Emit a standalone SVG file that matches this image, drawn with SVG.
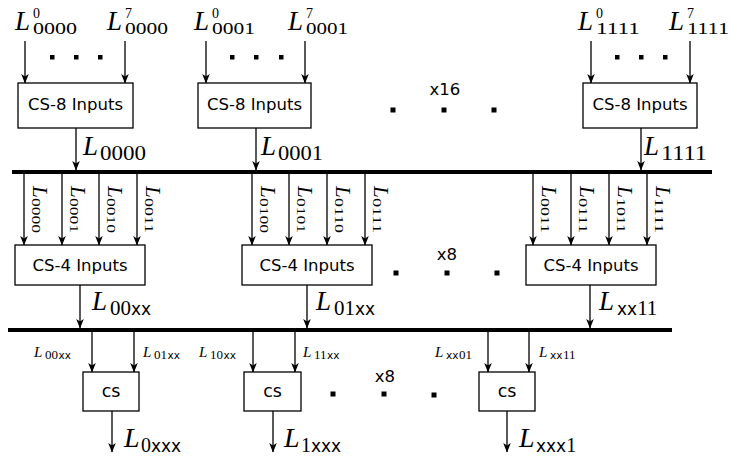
<svg xmlns="http://www.w3.org/2000/svg" width="732" height="460" viewBox="0 0 732 460">
<style>
.box{fill:#fff;stroke:#000;stroke-width:1.3}
.arr{stroke:#000;stroke-width:1.3;fill:none;marker-end:url(#ah)}
.bus{stroke:#000;stroke-width:4}
.bt{font-family:"DejaVu Sans",sans-serif;font-size:16.5px;text-anchor:middle;fill:#000}
.cs{font-family:"DejaVu Sans",sans-serif;font-size:17.5px;text-anchor:middle;fill:#000}
.L{font-family:"Liberation Serif",serif;font-style:italic;fill:#000}
.n{font-style:normal}
.xx{font-family:"DejaVu Sans",sans-serif;font-style:normal}
.dot{fill:#000}
</style>
<defs>
<marker id="ah" viewBox="-10 -5 11 10" refX="0" refY="0" markerWidth="11" markerHeight="10" markerUnits="userSpaceOnUse" orient="auto">
<path d="M0.5,0 L-9,-3.8 L-6.5,0 L-9,3.8 Z" fill="#000"/>
</marker>
</defs>

<g id="buses">
<line class="bus" x1="12" y1="172" x2="712" y2="172"/>
<line class="bus" x1="8" y1="330" x2="672" y2="330"/>
</g>

<g id="connectors">
<line class="arr" x1="25" y1="41" x2="25" y2="83"/>
<line class="arr" x1="125" y1="41" x2="125" y2="83"/>
<line class="arr" x1="206" y1="41" x2="206" y2="83"/>
<line class="arr" x1="305" y1="41" x2="305" y2="83"/>
<line class="arr" x1="591" y1="41" x2="591" y2="83"/>
<line class="arr" x1="690" y1="41" x2="690" y2="83"/>
<line class="arr" x1="76" y1="128" x2="76" y2="170"/>
<line class="arr" x1="256" y1="128" x2="256" y2="170"/>
<line class="arr" x1="641" y1="128" x2="641" y2="170"/>

<line class="arr" x1="24" y1="174" x2="24" y2="245"/>
<line class="arr" x1="62" y1="174" x2="62" y2="245"/>
<line class="arr" x1="99" y1="174" x2="99" y2="245"/>
<line class="arr" x1="137" y1="174" x2="137" y2="245"/>
<line class="arr" x1="252" y1="174" x2="252" y2="245"/>
<line class="arr" x1="289" y1="174" x2="289" y2="245"/>
<line class="arr" x1="327" y1="174" x2="327" y2="245"/>
<line class="arr" x1="365" y1="174" x2="365" y2="245"/>
<line class="arr" x1="533" y1="174" x2="533" y2="245"/>
<line class="arr" x1="571" y1="174" x2="571" y2="245"/>
<line class="arr" x1="609" y1="174" x2="609" y2="245"/>
<line class="arr" x1="647" y1="174" x2="647" y2="245"/>
<line class="arr" x1="80" y1="285" x2="80" y2="328"/>
<line class="arr" x1="307" y1="285" x2="307" y2="328"/>
<line class="arr" x1="590" y1="285" x2="590" y2="328"/>

<line class="arr" x1="92" y1="332" x2="92" y2="372"/>
<line class="arr" x1="134" y1="332" x2="134" y2="372"/>
<line class="arr" x1="253" y1="332" x2="253" y2="372"/>
<line class="arr" x1="295" y1="332" x2="295" y2="372"/>
<line class="arr" x1="488" y1="332" x2="488" y2="372"/>
<line class="arr" x1="529" y1="332" x2="529" y2="372"/>
<line class="arr" x1="112" y1="411" x2="112" y2="452"/>
<line class="arr" x1="273" y1="411" x2="273" y2="452"/>
<line class="arr" x1="507" y1="411" x2="507" y2="452"/>
</g>

<g id="cs8-0000">
<rect class="box" x="18" y="83" width="115" height="45"/>
<text class="bt" x="75.5" y="110">CS-8 Inputs</text>
</g>
<g id="cs8-0001">
<rect class="box" x="198" y="83" width="113" height="45"/>
<text class="bt" x="254.5" y="110">CS-8 Inputs</text>
</g>
<g id="cs8-1111">
<rect class="box" x="583" y="83" width="114" height="45"/>
<text class="bt" x="640" y="110">CS-8 Inputs</text>
</g>

<g id="cs4-00xx">
<rect class="box" x="15" y="245" width="130" height="40"/>
<text class="bt" x="80" y="270.5">CS-4 Inputs</text>
</g>
<g id="cs4-01xx">
<rect class="box" x="242" y="245" width="130" height="40"/>
<text class="bt" x="307" y="270.5">CS-4 Inputs</text>
</g>
<g id="cs4-xx11">
<rect class="box" x="526" y="245" width="130" height="40"/>
<text class="bt" x="591" y="270.5">CS-4 Inputs</text>
</g>

<g id="cs-0xxx">
<rect class="box" x="83" y="372" width="56" height="39"/>
<text class="cs" x="111" y="397">cs</text>
</g>
<g id="cs-1xxx">
<rect class="box" x="244" y="372" width="57" height="39"/>
<text class="cs" x="272.5" y="397">cs</text>
</g>
<g id="cs-xxx1">
<rect class="box" x="479" y="372" width="56" height="39"/>
<text class="cs" x="507" y="397">cs</text>
</g>

<g id="ellipses">
<rect class="dot" x="50" y="55" width="4.5" height="4.5"/>
<rect class="dot" x="74" y="55" width="4.5" height="4.5"/>
<rect class="dot" x="98" y="55" width="4.5" height="4.5"/>
<rect class="dot" x="230" y="55" width="4.5" height="4.5"/>
<rect class="dot" x="254" y="55" width="4.5" height="4.5"/>
<rect class="dot" x="279" y="55" width="4.5" height="4.5"/>
<rect class="dot" x="615" y="55" width="4.5" height="4.5"/>
<rect class="dot" x="639" y="55" width="4.5" height="4.5"/>
<rect class="dot" x="663" y="55" width="4.5" height="4.5"/>

<rect class="dot" x="390.5" y="107.5" width="5" height="5"/>
<rect class="dot" x="441.5" y="107.5" width="5" height="5"/>
<rect class="dot" x="491.5" y="107.5" width="5" height="5"/>
<text class="bt" x="445" y="95">x16</text>

<rect class="dot" x="393.5" y="270.5" width="5" height="5"/>
<rect class="dot" x="444.5" y="270.5" width="5" height="5"/>
<rect class="dot" x="494.5" y="270.5" width="5" height="5"/>
<text class="bt" x="447" y="260">x8</text>

<rect class="dot" x="330.5" y="391.5" width="5" height="5"/>
<rect class="dot" x="381.5" y="391.5" width="5" height="5"/>
<rect class="dot" x="431.5" y="392.5" width="5" height="5"/>
<text class="bt" x="385" y="382">x8</text>
</g>

<g id="labels-top-in">
<text class="L" font-size="27" x="15" y="30">L<tspan class="n" font-size="14" x="33" y="18">0</tspan><tspan class="n" font-size="16" x="33" y="34" textLength="44" lengthAdjust="spacingAndGlyphs">0000</tspan></text>
<text class="L" font-size="27" x="107" y="30">L<tspan class="n" font-size="14" x="125" y="18">7</tspan><tspan class="n" font-size="16" x="125" y="34" textLength="43" lengthAdjust="spacingAndGlyphs">0000</tspan></text>
<text class="L" font-size="27" x="194" y="30">L<tspan class="n" font-size="14" x="212" y="18">0</tspan><tspan class="n" font-size="16" x="212" y="34" textLength="43" lengthAdjust="spacingAndGlyphs">0001</tspan></text>
<text class="L" font-size="27" x="288" y="30">L<tspan class="n" font-size="14" x="306" y="18">7</tspan><tspan class="n" font-size="16" x="306" y="34" textLength="42" lengthAdjust="spacingAndGlyphs">0001</tspan></text>
<text class="L" font-size="27" x="578" y="30">L<tspan class="n" font-size="14" x="596" y="18">0</tspan><tspan class="n" font-size="16" x="596" y="34" textLength="44" lengthAdjust="spacingAndGlyphs">1111</tspan></text>
<text class="L" font-size="27" x="669" y="30">L<tspan class="n" font-size="14" x="687" y="18">7</tspan><tspan class="n" font-size="16" x="687" y="34" textLength="42" lengthAdjust="spacingAndGlyphs">1111</tspan></text>
</g>

<g id="labels-top-out">
<text class="L" font-size="27" x="83" y="155">L<tspan class="n" font-size="22" x="100" y="160" textLength="46" lengthAdjust="spacingAndGlyphs">0000</tspan></text>
<text class="L" font-size="27" x="261" y="155">L<tspan class="n" font-size="22" x="278" y="160" textLength="45" lengthAdjust="spacingAndGlyphs">0001</tspan></text>
<text class="L" font-size="27" x="644" y="155">L<tspan class="n" font-size="22" x="661" y="160" textLength="46" lengthAdjust="spacingAndGlyphs">1111</tspan></text>
</g>

<g id="labels-rot">
<text class="L" font-size="21" transform="translate(33,186) rotate(90)">L<tspan class="n" font-size="13.5" x="12" y="1" textLength="35" lengthAdjust="spacingAndGlyphs">0000</tspan></text>
<text class="L" font-size="21" transform="translate(71,186) rotate(90)">L<tspan class="n" font-size="13.5" x="12" y="1" textLength="35" lengthAdjust="spacingAndGlyphs">0001</tspan></text>
<text class="L" font-size="21" transform="translate(108,186) rotate(90)">L<tspan class="n" font-size="13.5" x="12" y="1" textLength="35" lengthAdjust="spacingAndGlyphs">0010</tspan></text>
<text class="L" font-size="21" transform="translate(146,186) rotate(90)">L<tspan class="n" font-size="13.5" x="12" y="1" textLength="35" lengthAdjust="spacingAndGlyphs">0011</tspan></text>

<text class="L" font-size="21" transform="translate(261,186) rotate(90)">L<tspan class="n" font-size="13.5" x="12" y="1" textLength="35" lengthAdjust="spacingAndGlyphs">0100</tspan></text>
<text class="L" font-size="21" transform="translate(298,186) rotate(90)">L<tspan class="n" font-size="13.5" x="12" y="1" textLength="35" lengthAdjust="spacingAndGlyphs">0101</tspan></text>
<text class="L" font-size="21" transform="translate(336,186) rotate(90)">L<tspan class="n" font-size="13.5" x="12" y="1" textLength="35" lengthAdjust="spacingAndGlyphs">0110</tspan></text>
<text class="L" font-size="21" transform="translate(374,186) rotate(90)">L<tspan class="n" font-size="13.5" x="12" y="1" textLength="35" lengthAdjust="spacingAndGlyphs">0111</tspan></text>

<text class="L" font-size="21" transform="translate(542,186) rotate(90)">L<tspan class="n" font-size="13.5" x="12" y="1" textLength="35" lengthAdjust="spacingAndGlyphs">0011</tspan></text>
<text class="L" font-size="21" transform="translate(580,186) rotate(90)">L<tspan class="n" font-size="13.5" x="12" y="1" textLength="35" lengthAdjust="spacingAndGlyphs">0111</tspan></text>
<text class="L" font-size="21" transform="translate(618,186) rotate(90)">L<tspan class="n" font-size="13.5" x="12" y="1" textLength="35" lengthAdjust="spacingAndGlyphs">1011</tspan></text>
<text class="L" font-size="21" transform="translate(656,186) rotate(90)">L<tspan class="n" font-size="13.5" x="12" y="1" textLength="35" lengthAdjust="spacingAndGlyphs">1111</tspan></text>
</g>

<g id="labels-mid-out">
<text class="L" font-size="27" x="92" y="310">L<tspan class="n" font-size="21" x="110" y="315">00</tspan><tspan class="xx" font-size="17">xx</tspan></text>
<text class="L" font-size="27" x="316" y="310">L<tspan class="n" font-size="21" x="334" y="315">01</tspan><tspan class="xx" font-size="17">xx</tspan></text>
<text class="L" font-size="27" x="599" y="310">L<tspan class="xx" font-size="17" x="617" y="315">xx</tspan><tspan class="n" font-size="21">11</tspan></text>
</g>

<g id="labels-bot-in">
<text class="L" font-size="15" x="34" y="357">L<tspan class="n" font-size="13" x="45" y="359">00</tspan><tspan class="xx" font-size="10.5" dx="0.5">xx</tspan></text>
<text class="L" font-size="15" x="143" y="357">L<tspan class="n" font-size="13" x="154" y="359">01</tspan><tspan class="xx" font-size="10.5" dx="0.5">xx</tspan></text>
<text class="L" font-size="15" x="199" y="357">L<tspan class="n" font-size="13" x="210" y="359">10</tspan><tspan class="xx" font-size="10.5" dx="0.5">xx</tspan></text>
<text class="L" font-size="15" x="303" y="357">L<tspan class="n" font-size="13" x="314" y="359">11</tspan><tspan class="xx" font-size="10.5" dx="0.5">xx</tspan></text>
<text class="L" font-size="15" x="435" y="357">L<tspan class="xx" font-size="10.5" x="446" y="359">xx</tspan><tspan class="n" font-size="13" dx="0.5">01</tspan></text>
<text class="L" font-size="15" x="539" y="357">L<tspan class="xx" font-size="10.5" x="550" y="359">xx</tspan><tspan class="n" font-size="13" dx="0.5">11</tspan></text>
</g>

<g id="labels-bot-out">
<text class="L" font-size="28" x="124" y="447">L<tspan class="n" font-size="20" x="141" y="452">0</tspan><tspan class="xx" font-size="17">xxx</tspan></text>
<text class="L" font-size="28" x="284" y="447">L<tspan class="n" font-size="20" x="301" y="452">1</tspan><tspan class="xx" font-size="17">xxx</tspan></text>
<text class="L" font-size="28" x="519" y="447">L<tspan class="xx" font-size="17" x="536" y="452">xxx</tspan><tspan class="n" font-size="20">1</tspan></text>
</g>
</svg>
